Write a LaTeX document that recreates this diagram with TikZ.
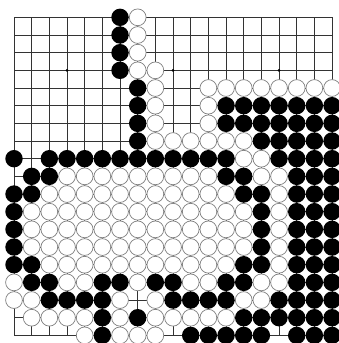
\documentclass[tikz,border=0pt]{standalone}
\tikzset{
  gridline/.style={line width=0.8pt, draw=black!80},
  blackstone/.style={fill=black},
  whitestone/.style={fill=white, draw=black!50, line width=0.7pt},
  hoshi/.style={fill=black},
}
\newcommand\bstones[2]{\foreach \c in {#2}{\fill[blackstone] (\c,#1) circle (8.7pt);}}
\newcommand\wstones[2]{\foreach \c in {#2}{\path[whitestone] (\c,#1) circle (8.4pt);}}
\begin{document}
\begin{tikzpicture}[x=17.67pt,y=-17.67pt]
\useasboundingbox (-14pt,17.33pt) rectangle (325pt,-325.67pt);
\clip (-14pt,17.33pt) rectangle (325pt,-325.67pt);
\fill[white] (-14pt,17.33pt) rectangle (325pt,-325.67pt);
% grid
\foreach \i in {0,...,18}{
  \draw[gridline] (\i,0) -- (\i,18);
  \draw[gridline] (0,\i) -- (18,\i);
}
\foreach \a in {3,9,15}{\foreach \b in {3,9,15}{\fill[hoshi] (\a,\b) circle (1.5pt);}}
% black stones
\bstones{0}{6}
\bstones{1}{6}
\bstones{2}{6}
\bstones{3}{6}
\bstones{4}{7}
\bstones{5}{7,12,13,14,15,16,17,18}
\bstones{6}{7,12,13,14,15,16,17,18}
\bstones{7}{7,14,15,16,17,18}
\bstones{8}{0,2,3,4,5,6,7,8,9,10,11,12,15,16,17,18}
\bstones{9}{1,2,12,13,16,17,18}
\bstones{10}{0,1,13,14,16,17,18}
\bstones{11}{0,14,16,17,18}
\bstones{12}{0,14,16,17,18}
\bstones{13}{0,14,16,17,18}
\bstones{14}{0,1,13,14,16,17,18}
\bstones{15}{1,2,5,6,8,9,12,13,16,17,18}
\bstones{16}{2,3,4,5,9,10,11,12,15,16,17,18}
\bstones{17}{5,7,13,14,15,16,17,18}
\bstones{18}{5,10,11,12,13,14,16,17,18}
% white stones
\wstones{0}{7}
\wstones{1}{7}
\wstones{2}{7}
\wstones{3}{7,8}
\wstones{4}{8,11,12,13,14,15,16,17,18}
\wstones{5}{8,11}
\wstones{6}{8,11}
\wstones{7}{8,9,10,11,12,13}
\wstones{8}{13,14}
\wstones{9}{3,4,5,6,7,8,9,10,11,14,15}
\wstones{10}{2,3,4,5,6,7,8,9,10,11,12,15}
\wstones{11}{1,2,3,4,5,6,7,8,9,10,11,12,13,15}
\wstones{12}{1,2,3,4,5,6,7,8,9,10,11,12,13,15}
\wstones{13}{1,2,3,4,5,6,7,8,9,10,11,12,13,15}
\wstones{14}{2,3,4,5,6,7,8,9,10,11,12,15}
\wstones{15}{0,3,4,7,10,11,14,15}
\wstones{16}{0,1,6,8,13,14}
\wstones{17}{1,2,3,4,6,8,9,10,11,12}
\wstones{18}{4,6,7,8}
\end{tikzpicture}
\end{document}
